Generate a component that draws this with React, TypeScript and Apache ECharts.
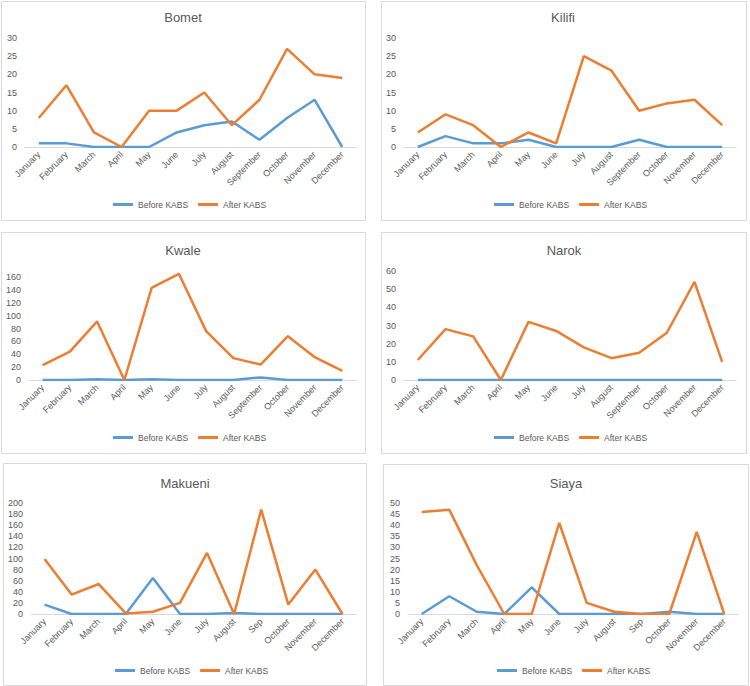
import React, { useEffect, useRef } from "react";
import * as echarts from "echarts";

const monthsFull = ["January", "February", "March", "April", "May", "June", "July", "August", "September", "October", "November", "December"];
const monthsShort = ["January", "February", "March", "April", "May", "June", "July", "August", "Sep", "October", "November", "December"];

const bometBefore = [1, 1, 0, 0, 0, 4, 6, 7, 2, 8, 13, 0];
const bometAfter = [8, 17, 4, 0, 10, 10, 15, 6, 13, 27, 20, 19];
const kilifiBefore = [0, 3, 1, 1, 2, 0, 0, 0, 2, 0, 0, 0];
const kilifiAfter = [4, 9, 6, 0, 4, 1, 25, 21, 10, 12, 13, 6];
const kwaleBefore = [0, 0, 1, 0, 1, 0, 0, 0, 4, 0, 0, 0];
const kwaleAfter = [23, 44, 91, 0, 143, 165, 76, 34, 24, 68, 35, 14];
const narokBefore = [0, 0, 0, 0, 0, 0, 0, 0, 0, 0, 0, 0];
const narokAfter = [11, 28, 24, 0, 32, 27, 18, 12, 15, 26, 54, 10];
const makueniBefore = [17, 0, 0, 0, 65, 0, 0, 2, 0, 0, 0, 0];
const makueniAfter = [99, 35, 54, 1, 4, 20, 110, 0, 188, 17, 80, 0];
const siayaBefore = [0, 8, 1, 0, 12, 0, 0, 0, 0, 1, 0, 0];
const siayaAfter = [46, 47, 22, 0, 0, 41, 5, 1, 0, 0, 37, 0];

const seriesNames = ["Before KABS", "After KABS"];

const panels = [
  { title: "Bomet", cats: monthsFull, before: bometBefore, after: bometAfter, max: 30, interval: 5,
    box: [1, 1, 364, 219], grid: [25, 38, 331, 109], titleXY: [183, 17], legend: [113, 200] },
  { title: "Kilifi", cats: monthsFull, before: kilifiBefore, after: kilifiAfter, max: 30, interval: 5,
    box: [381, 1, 365, 219], grid: [404, 38, 332, 109], titleXY: [563, 17], legend: [494, 200] },
  { title: "Kwale", cats: monthsFull, before: kwaleBefore, after: kwaleAfter, max: 170, interval: 20,
    box: [1, 232, 364, 221], grid: [29, 270.6, 327, 109.4], titleXY: [183, 250], legend: [113, 433] },
  { title: "Narok", cats: monthsFull, before: narokBefore, after: narokAfter, max: 60, interval: 10,
    box: [381, 232, 365, 221], grid: [404, 271, 332, 109], titleXY: [564, 250], legend: [494, 433] },
  { title: "Makueni", cats: monthsShort, before: makueniBefore, after: makueniAfter, max: 200, interval: 20,
    box: [3, 463, 363, 222], grid: [31, 503, 325, 111], titleXY: [185, 483], legend: [115, 666] },
  { title: "Siaya", cats: monthsShort, before: siayaBefore, after: siayaAfter, max: 50, interval: 5,
    box: [383, 464, 365, 221], grid: [408, 503, 330, 111], titleXY: [566, 483], legend: [497, 666] },
];

const FONT = "Liberation Sans";
const TXT = "#595959";
const BLUE = "#5B9BD5";
const ORANGE = "#ED7D31";

export default function App() {
  const ref = useRef<HTMLDivElement>(null);
  useEffect(() => {
    if (!ref.current) return;
    const chart = echarts.init(ref.current, null, { renderer: "svg" });
    const graphic: any[] = [];
    panels.forEach((p) => {
      graphic.push({
        type: "rect",
        shape: { x: p.box[0] + 0.5, y: p.box[1] + 0.5, width: p.box[2], height: p.box[3] },
        style: { fill: "#fff", stroke: "#D9D9D9", lineWidth: 1 },
        z: -10,
      });
      graphic.push({
        type: "text",
        x: p.titleXY[0],
        y: p.titleXY[1],
        style: { text: p.title, fill: TXT, font: `13px "${FONT}"`, textAlign: "center", textVerticalAlign: "middle" },
      });
    });
    const option: any = {
      animation: false,
      backgroundColor: "#fff",
      graphic,
      grid: panels.map((p) => ({ left: p.grid[0], top: p.grid[1], width: p.grid[2], height: p.grid[3], containLabel: false })),
      xAxis: panels.map((p, i) => ({
        type: "category",
        gridIndex: i,
        data: p.cats,
        boundaryGap: true,
        axisLine: { lineStyle: { color: "#D9D9D9", width: 1 } },
        axisTick: { show: false },
        axisLabel: { rotate: 45, interval: 0, color: TXT, fontSize: 9, fontFamily: FONT, margin: 6 },
      })),
      yAxis: panels.map((p, i) => ({
        type: "value",
        gridIndex: i,
        min: 0,
        max: p.max,
        interval: p.interval,
        axisLine: { show: false },
        axisTick: { show: false },
        splitLine: { show: false },
        axisLabel: {
          color: TXT,
          fontSize: 9,
          fontFamily: FONT,
          margin: 8,
          formatter: (v: number) => (v % p.interval === 0 ? String(v) : ""),
        },
      })),
      legend: panels.map((p) => ({
        left: p.legend[0],
        top: p.legend[1],
        padding: 0,
        data: seriesNames,
        icon: "rect",
        itemWidth: 20,
        itemHeight: 3,
        itemGap: 10,
        textStyle: { color: TXT, fontSize: 8.5, fontFamily: FONT },
        selectedMode: false,
      })),
      series: panels.flatMap((p, i) => [
        {
          name: seriesNames[0],
          type: "line",
          xAxisIndex: i,
          yAxisIndex: i,
          data: p.before,
          symbol: "none",
          lineStyle: { color: BLUE, width: 2.5 },
          itemStyle: { color: BLUE },
          z: 2,
        },
        {
          name: seriesNames[1],
          type: "line",
          xAxisIndex: i,
          yAxisIndex: i,
          data: p.after,
          symbol: "none",
          lineStyle: { color: ORANGE, width: 2.5 },
          itemStyle: { color: ORANGE },
          z: 3,
        },
      ]),
    };
    chart.setOption(option);
    return () => chart.dispose();
  }, []);
  return <div ref={ref} style={{ position: "absolute", left: 0, top: 0, width: 750, height: 686 }} />;
}
